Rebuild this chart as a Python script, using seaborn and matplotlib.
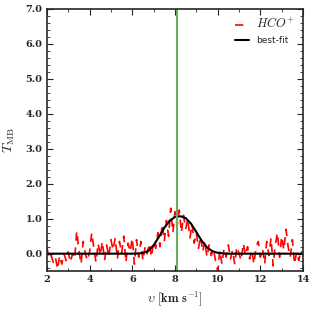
import numpy as np
import pandas as pd
import matplotlib
matplotlib.use('Agg')
import matplotlib.pyplot as plt
from matplotlib.ticker import MultipleLocator, FormatStrFormatter
import seaborn as sns

# observed spectrum (channels every 0.1 km/s)
velocity = np.round(np.arange(2.0, 14.01, 0.1), 2)
t_mb = [
    0.18, -0.15, -0.05, -0.25, -0.1, -0.45, -0.05, -0.3, 0.0, -0.2, 0.05,
    -0.25, 0.0, -0.15, 0.65, 0.1, -0.3, 0.35, 0.0, -0.2, 0.05,
    0.6, 0.15, -0.25, 0.3, -0.05, 0.35, -0.2, 0.25, -0.1, 0.4,
    0.1, 0.45, -0.15, 0.35, 0.0, 0.5, -0.25, 0.3, 0.05, 0.45,
    -0.3, 0.4, -0.1, 0.35, -0.2, 0.2, 0.0, 0.3, -0.1, 0.35,
    0.15, 0.6, 0.2, 0.85, 0.35, 0.95, 0.5, 1.3, 0.6, 1.2,
    0.8, 1.25, 0.6, 1.1, 0.7, 1.0, 0.45, 0.85, 0.3, 0.6,
    0.15, 0.5, 0.05, 0.35, -0.1, 0.25, -0.05, 0.15, -0.2, -0.5,
    0.1, -0.3, 0.15, -0.1, 0.25, -0.15, 0.1, -0.3, 0.2, 0.0,
    -0.2, 0.3, -0.05, 0.2, -0.15, 0.1, -0.3, 0.2, 0.35, -0.1,
    0.15, -0.3, 0.35, -0.05, 0.45, -0.35, 0.25, 0.6, -0.1, 0.5,
    0.1, 0.7, 0.2, -0.1, 0.4, -0.3, 0.05, -0.2, 0.1, -0.05,
]

# best-fit profile
fit_v = [2.0, 4.0, 6.0, 6.25, 6.5, 6.75, 7.0, 7.25, 7.5, 7.75, 8.0, 8.25,
         8.5, 8.75, 9.0, 9.25, 9.5, 9.75, 10.0, 10.25, 10.5, 12.0, 14.0]
fit_t = [0.0, 0.0, 0.0, 0.005, 0.02, 0.08, 0.24, 0.48, 0.74, 0.94, 1.05, 1.07,
         1.02, 0.86, 0.62, 0.37, 0.18, 0.07, 0.025, 0.008, 0.0, 0.0, 0.0]

line_center = 8.1

spec = pd.DataFrame({'v': velocity, 't': t_mb})
fit = pd.DataFrame({'v': fit_v, 't': fit_t})

sns.set_style('ticks')
plt.rcParams['font.family'] = ['DejaVu Serif']
plt.rcParams['mathtext.fontset'] = 'cm'

fig = plt.figure(figsize=(3.19, 3.19), dpi=100)
ax = fig.add_axes([0.147, 0.150, 0.803, 0.822])

sns.lineplot(data=spec, x='v', y='t', ax=ax, color='red', linestyle='--',
             lw=1.2, label=r'$HCO^{+}$')
ax.lines[-1].set_dashes([5, 4])
sns.lineplot(data=fit, x='v', y='t', ax=ax, color='black', lw=1.5, label='best-fit')
ax.axvline(line_center, color='#6aab62', lw=1.5)

ax.set_xlim(2, 14)
ax.set_ylim(-0.5, 7.0)
ax.xaxis.set_major_locator(MultipleLocator(2))
ax.xaxis.set_minor_locator(MultipleLocator(1))
ax.yaxis.set_major_locator(MultipleLocator(1))
ax.yaxis.set_minor_locator(MultipleLocator(0.2))
ax.yaxis.set_major_formatter(FormatStrFormatter('%.1f'))
ax.tick_params(which='both', direction='in', top=True, right=True, labelsize=7, pad=3)
ax.tick_params(which='major', length=4, width=0.8)
ax.tick_params(which='minor', length=2, width=0.6)
for lab in ax.get_xticklabels() + ax.get_yticklabels():
    lab.set_fontweight('bold')
for s in ax.spines.values():
    s.set_linewidth(1.2)

ax.set_xlabel(r'$\upsilon\ [\mathbf{km\ s}^{-1}]$', fontsize=9, labelpad=4)
ax.set_ylabel(r'$T_{\rm MB}$', fontsize=10, labelpad=6)

leg = ax.legend(loc='upper right', frameon=False, handlelength=1.6,
                prop={'family': 'DejaVu Sans', 'size': 6.5})
for txt in leg.get_texts():
    if 'HCO' in txt.get_text():
        txt.set_fontsize(9)

fig.savefig('out.png', dpi=100)
